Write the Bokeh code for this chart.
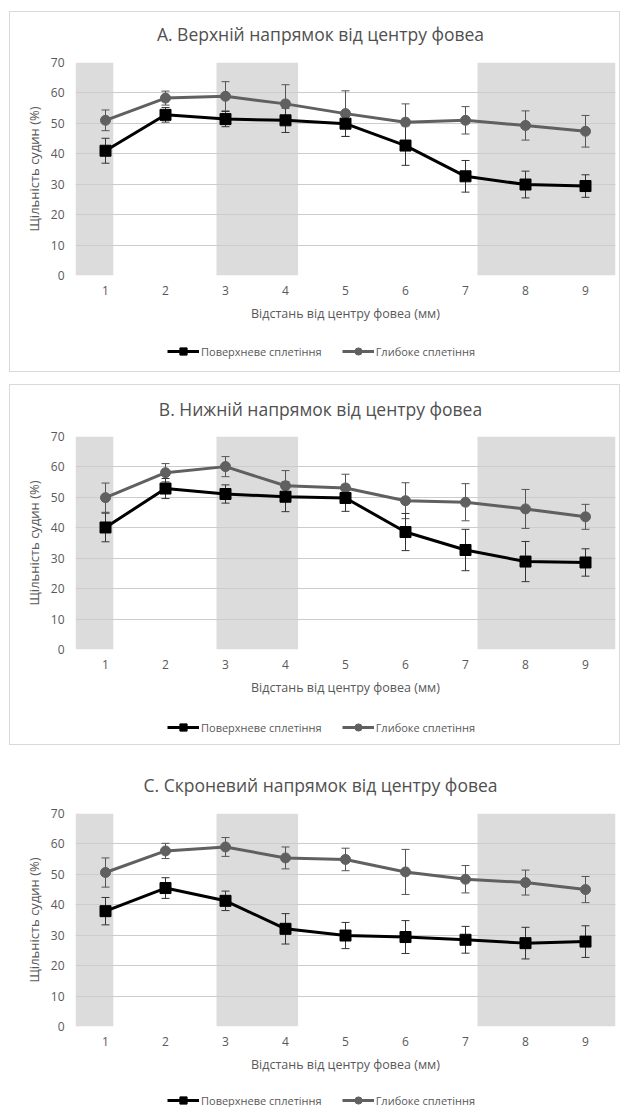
from bokeh.plotting import figure
from bokeh.models import ColumnDataSource, Whisker, FixedTicker, Legend, LegendItem, Range1d, TeeHead, Label
from bokeh.layouts import column
from bokeh.embed import file_html
from bokeh.resources import INLINE

# ---------------- data ----------------
distance_mm = [1, 2, 3, 4, 5, 6, 7, 8, 9]
x_tick_labels = ["1", "2", "3", "4", "5", "6", "7", "8", "9"]
y_ticks = [0, 10, 20, 30, 40, 50, 60, 70]

# shaded zones (in x-axis units)
band_left = [0.5, 2.85, 7.2]
band_right = [1.13, 4.21, 9.5]
band_bottom = [0, 0, 0]
band_top = [70, 70, 70]

series_names = ["Поверхневе сплетіння", "Глибоке сплетіння"]
titles = [
    "A. Верхній напрямок від центру фовеа",
    "B. Нижній напрямок від центру фовеа",
    "C. Скроневий напрямок від центру фовеа",
]
x_title = "Відстань від центру фовеа (мм)"
y_title = "Щільність судин (%)"

# A. superior
surface_A = [41.0, 52.8, 51.4, 51.0, 49.9, 42.7, 32.6, 29.9, 29.4]
surface_A_err = [4.1, 2.4, 2.5, 4.0, 4.2, 6.5, 5.2, 4.4, 3.7]
deep_A = [51.0, 58.3, 58.9, 56.4, 53.2, 50.4, 51.0, 49.3, 47.4]
deep_A_err = [3.4, 2.3, 4.8, 6.3, 7.5, 6.0, 4.5, 4.8, 5.2]

# B. inferior
surface_B = [40.1, 52.9, 51.1, 50.2, 49.8, 38.6, 32.7, 28.9, 28.6]
surface_B_err = [4.7, 3.3, 3.0, 4.9, 4.4, 6.1, 6.8, 6.6, 4.5]
deep_B = [49.9, 58.1, 60.1, 53.8, 53.1, 48.9, 48.4, 46.2, 43.6]
deep_B_err = [4.8, 3.0, 3.3, 5.0, 4.5, 5.9, 6.1, 6.4, 4.1]

# C. temporal
surface_C = [37.9, 45.5, 41.3, 32.1, 29.9, 29.4, 28.5, 27.4, 27.9]
surface_C_err = [4.5, 3.4, 3.2, 5.0, 4.3, 5.4, 4.4, 5.2, 5.2]
deep_C = [50.6, 57.7, 59.0, 55.4, 54.9, 50.8, 48.4, 47.3, 45.0]
deep_C_err = [4.8, 2.5, 3.1, 3.6, 3.7, 7.4, 4.5, 4.1, 4.3]

# ---------------- style ----------------
FONT = "Open Sans"
TXT = "#595959"
SURF_COLOR = "#000000"
DEEP_COLOR = "#606060"
BAND_COLOR = "#dcdcdc"
GRID_COLOR = "#cccccc"
BORDER = "1px solid #d9d9d9"
W = 611


def add_series(p, xs, surf, deep):
    d_line = p.line(xs, deep, line_color=DEEP_COLOR, line_width=3)
    d_mark = p.scatter(xs, deep, marker="circle", size=10,
                       fill_color=DEEP_COLOR, line_color=DEEP_COLOR)
    s_line = p.line(xs, surf, line_color=SURF_COLOR, line_width=3)
    s_mark = p.scatter(xs, surf, marker="square", size=11,
                       fill_color=SURF_COLOR, line_color=SURF_COLOR)
    return s_line, s_mark, d_line, d_mark


def bare_figure(height, xr, yr, margin, styles):
    f = figure(width=W, height=height, title=None,
               x_range=xr, y_range=yr,
               output_backend="svg", toolbar_location=None,
               x_axis_location=None, y_axis_location=None,
               min_border_left=65, min_border_right=6,
               min_border_top=0, min_border_bottom=0,
               background_fill_color="white", border_fill_color="white",
               outline_line_color=None)
    f.grid.visible = False
    f.margin = margin
    if styles:
        f.styles = styles
    return f


def make_header(title_text, height, title_y, margin, styles):
    hf = bare_figure(height, Range1d(0, 540), Range1d(0, height), margin, styles)
    hf.add_layout(Label(x=245, y=title_y, text=title_text,
                        text_align="center", text_baseline="middle",
                        text_font=FONT, text_font_size="17.5px",
                        text_color="#505050"))
    return hf


def make_chart(surf, surf_err, deep, deep_err, height, mb_top, mb_bottom, margin, styles):
    p = figure(width=W, height=height, title=None,
               x_range=Range1d(0.5, 9.5), y_range=Range1d(0, 70),
               output_backend="svg", toolbar_location=None,
               min_border_left=65, min_border_right=6,
               min_border_top=mb_top, min_border_bottom=mb_bottom,
               background_fill_color="white", border_fill_color="white",
               outline_line_color=None)
    p.margin = margin
    if styles:
        p.styles = styles

    # bands
    p.quad(left=band_left, right=band_right, bottom=band_bottom, top=band_top,
           fill_color=BAND_COLOR, line_color=None, level="image")

    # grid
    p.xgrid.grid_line_color = None
    p.ygrid.grid_line_color = GRID_COLOR
    p.ygrid.grid_line_width = 1
    p.ygrid.ticker = FixedTicker(ticks=y_ticks)

    # axes
    p.xaxis.ticker = FixedTicker(ticks=distance_mm)
    p.xaxis.major_label_overrides = {d: lab for d, lab in zip(distance_mm, x_tick_labels)}
    p.yaxis.ticker = FixedTicker(ticks=y_ticks)
    for ax in (p.xaxis[0], p.yaxis[0]):
        ax.axis_line_color = None
        ax.major_tick_line_color = None
        ax.minor_tick_line_color = None
        ax.major_tick_out = 0
        ax.major_tick_in = 0
        ax.major_label_text_font = FONT
        ax.major_label_text_font_size = "12px"
        ax.major_label_text_color = TXT
        ax.axis_label_text_font = FONT
        ax.axis_label_text_font_style = "normal"
        ax.axis_label_text_color = TXT
    p.xaxis.axis_label = x_title
    p.xaxis.axis_label_text_font_size = "12.5px"
    p.xaxis.major_label_standoff = 10
    p.xaxis.axis_label_standoff = 7
    p.yaxis.axis_label = y_title
    p.yaxis.axis_label_text_font_size = "13px"
    p.yaxis.major_label_standoff = 11
    p.yaxis.axis_label_standoff = 5

    # error bars
    s_src = ColumnDataSource(dict(x=distance_mm,
                                  lo=[v - e for v, e in zip(surf, surf_err)],
                                  hi=[v + e for v, e in zip(surf, surf_err)]))
    d_src = ColumnDataSource(dict(x=distance_mm,
                                  lo=[v - e for v, e in zip(deep, deep_err)],
                                  hi=[v + e for v, e in zip(deep, deep_err)]))
    for src, col in ((d_src, "#555555"), (s_src, "#333333")):
        w = Whisker(base="x", lower="lo", upper="hi", source=src,
                    line_color=col, line_width=1, level="underlay",
                    upper_head=TeeHead(size=8, line_color=col, line_width=1),
                    lower_head=TeeHead(size=8, line_color=col, line_width=1))
        p.add_layout(w)

    add_series(p, distance_mm, surf, deep)
    return p


def make_legend_fig(height, vy, margin, styles):
    lf = bare_figure(height, Range1d(0, 1), Range1d(0, 1), margin, styles)
    nan = [float("nan")]
    s_line, s_mark, d_line, d_mark = add_series(lf, nan, nan, nan)
    legend = Legend(items=[LegendItem(label=series_names[0], renderers=[s_line, s_mark]),
                           LegendItem(label=series_names[1], renderers=[d_line, d_mark])],
                    orientation="horizontal", location=(92, vy),
                    glyph_width=32, glyph_height=18, label_height=18,
                    label_standoff=2, spacing=20, padding=0, margin=0,
                    border_line_color=None, background_fill_alpha=0,
                    label_text_font=FONT, label_text_font_size="11px",
                    label_text_color=TXT)
    lf.add_layout(legend)
    return lf


top_css = {"border": BORDER, "border-bottom": "none"}
mid_css = {"border-left": BORDER, "border-right": BORDER}
bot_css = {"border": BORDER, "border-top": "none"}

hA = make_header(titles[0], 40, 18.7, (11, 0, 0, 9), top_css)
pA = make_chart(surface_A, surface_A_err, deep_A, deep_A_err, 276, 11, 52, (0, 0, 0, 9), mid_css)
lA = make_legend_fig(45, 12, (0, 0, 0, 9), bot_css)

hB = make_header(titles[1], 40, 17, (12, 0, 0, 9), top_css)
pB = make_chart(surface_B, surface_B_err, deep_B, deep_B_err, 277, 12, 52, (0, 0, 0, 9), mid_css)
lB = make_legend_fig(44, 9, (0, 0, 0, 9), bot_css)

hC = make_header(titles[2], 40, 17, (16, 0, 0, 10), None)
pC = make_chart(surface_C, surface_C_err, deep_C, deep_C_err, 277, 12, 52, (0, 0, 0, 10), None)
lC = make_legend_fig(29, -2, (0, 0, 0, 10), None)

layout = column(hA, pA, lA, hB, pB, lB, hC, pC, lC)
open("out.html", "w").write(file_html(layout, INLINE))
